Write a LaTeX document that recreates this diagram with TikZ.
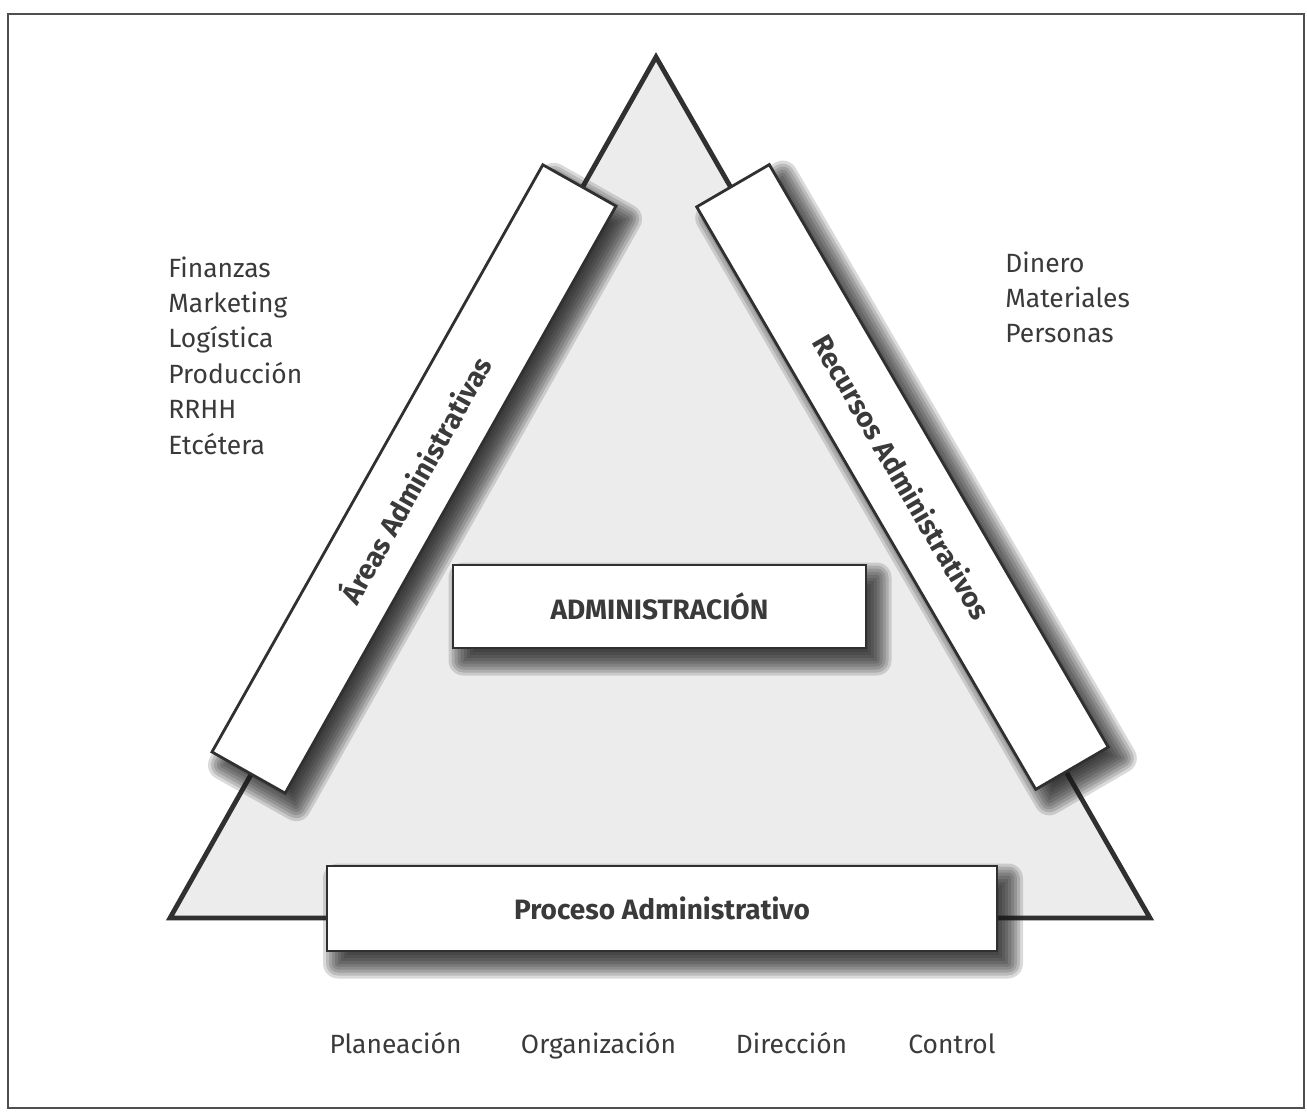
\documentclass[tikz,border=0pt]{standalone}
\usepackage{fontspec}
\setmainfont{Fira Sans}
\definecolor{ink}{HTML}{3A3A3A}
\definecolor{edge}{HTML}{303030}
\definecolor{trifill}{HTML}{ECECEC}
\definecolor{shadowtone}{HTML}{1A1A1A}

% soft drop shadow of a (possibly rotated) rectangle:
% #1,#2 centre, #3 length, #4 height, #5 angle
\newcommand\softshadow[5]{%
  \begin{scope}[shift={(#1,#2)}, rotate=#5]
    \foreach \r in {-12,-9,...,15}{
      \pgfmathsetmacro\rc{max(\r,0)*0.5}
      \fill[shadowtone, fill opacity=0.16, rounded corners=\rc pt]
        ({-(#3/2+\r)},{-(#4/2+\r)}) rectangle ({#3/2+\r},{#4/2+\r});
    }
  \end{scope}}

\tikzset{
  frame/.style={draw=edge!85, line width=1.2pt},
  tri/.style={draw=edge, fill=trifill, line width=2.4pt, line join=miter},
  whitebox/.style={draw=edge, fill=white, line width=1.4pt, inner sep=0pt,
    outer sep=0pt, text=ink, font=\fontsize{14}{16}\selectfont\bfseries},
  listtext/.style={anchor=base west, inner sep=0pt, text=ink,
    font=\fontsize{13.2}{16}\selectfont},
  steptext/.style={anchor=base, inner sep=0pt, text=ink,
    font=\fontsize{13.2}{16}\selectfont},
}

\begin{document}
\begin{tikzpicture}[x=0.5pt, y=-0.5pt]
  \useasboundingbox (0,0) rectangle (1307,1113);
  \fill[white] (0,0) rectangle (1307,1113);
  \draw[frame] (8,14) rectangle (1304,1108);

  % the triangle
  \coordinate (apex) at (656,57);
  \coordinate (bl) at (170,918);
  \coordinate (br) at (1150,918);
  \draw[tri] (apex) -- (bl) -- (br) -- cycle;

  % side bars
  \softshadow{425}{492}{674}{84}{60.6}
  \node[whitebox, rotate=60.6, minimum width=337pt, minimum height=42pt]
    (areas) at (414,479) {Áreas Administrativas};
  \softshadow{916}{488}{674}{84}{-59.8}
  \node[whitebox, rotate=-59.8, minimum width=337pt, minimum height=42pt]
    (recursos) at (902.5,477) {Recursos Administrativos};

  % central boxes
  \softshadow{670}{619}{413}{83}{0}
  \node[whitebox, minimum width=206.5pt, minimum height=41.5pt]
    (admin) at (659.5,606.5) {ADMINISTRACIÓN};
  \softshadow{673}{921}{670}{85}{0}
  \node[whitebox, minimum width=335pt, minimum height=42.5pt]
    (proceso) at (662,908.5) {Proceso Administrativo};

  % administrative areas
  \foreach \t [count=\i] in {Finanzas, Marketing, Logística, Producción, RRHH, Etcétera}
    \node[listtext] (area\i) at (168,{277+35.4*(\i-1)}) {\t};

  % resources
  \foreach \t [count=\i] in {Dinero, Materiales, Personas}
    \node[listtext] (rec\i) at (1005,{272+35.2*(\i-1)}) {\t};

  % stages of the process
  \node[steptext] (plan) at (395.5,1053) {Planeación};
  \node[steptext] (org)  at (598.5,1053) {Organización};
  \node[steptext] (dir)  at (791.5,1053) {Dirección};
  \node[steptext] (ctrl) at (952,1053)   {Control};
\end{tikzpicture}
\end{document}
